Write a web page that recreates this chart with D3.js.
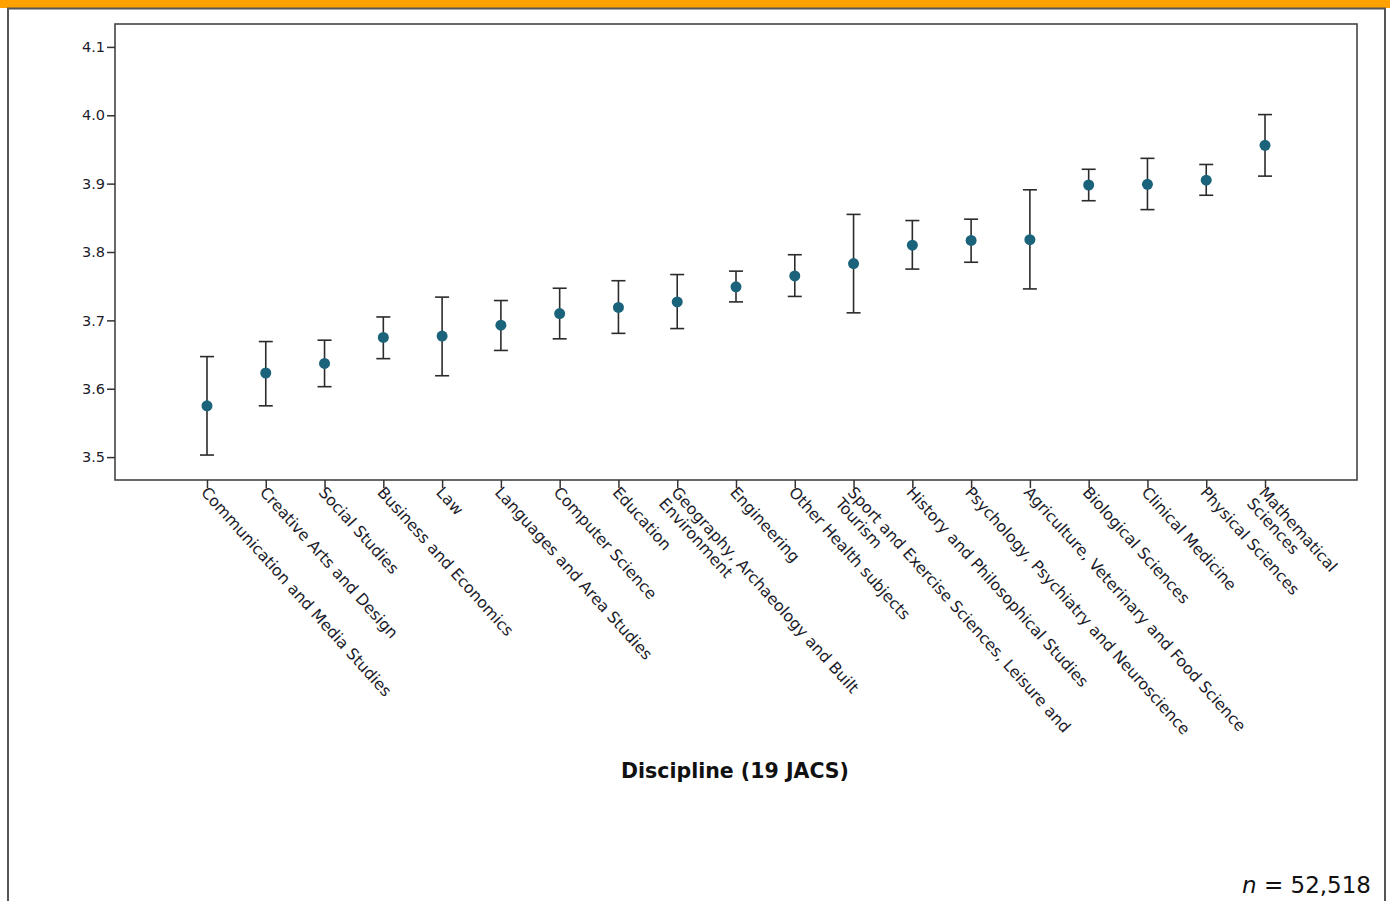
<!DOCTYPE html>
<html>
<head>
<meta charset="utf-8">
<script src="https://cdn.jsdelivr.net/npm/d3@7"></script>
<style>
  html, body { margin: 0; padding: 0; background: #fff; }
  svg { display: block; }
</style>
</head>
<body>
<svg id="chart" width="1390" height="901"></svg>
<script>
// Discipline names; each entry lists the lines of its wrapped tick label
const disciplines = [
  ["Communication and Media Studies"],
  ["Creative Arts and Design"],
  ["Social Studies"],
  ["Business and Economics"],
  ["Law"],
  ["Languages and Area Studies"],
  ["Computer Science"],
  ["Education"],
  ["Geography, Archaeology and Built", "Environment"],
  ["Engineering"],
  ["Other Health subjects"],
  ["Sport and Exercise Sciences, Leisure and", "Tourism"],
  ["History and Philosophical Studies"],
  ["Psychology, Psychiatry and Neuroscience"],
  ["Agriculture, Veterinary and Food Science"],
  ["Biological Sciences"],
  ["Clinical Medicine"],
  ["Physical Sciences"],
  ["Mathematical", "Sciences"]
];

// Mean score per discipline with the bounds of its error bar
const means = [3.575, 3.623, 3.637, 3.675, 3.677, 3.693, 3.710, 3.719, 3.727, 3.749,
               3.765, 3.783, 3.810, 3.817, 3.818, 3.898, 3.899, 3.905, 3.956];
const lower = [3.503, 3.575, 3.603, 3.644, 3.619, 3.656, 3.673, 3.681, 3.688, 3.727,
               3.735, 3.711, 3.775, 3.785, 3.746, 3.875, 3.862, 3.883, 3.911];
const upper = [3.647, 3.669, 3.671, 3.705, 3.734, 3.729, 3.747, 3.758, 3.767, 3.772,
               3.796, 3.855, 3.846, 3.848, 3.891, 3.921, 3.937, 3.928, 4.001];

const yTicks = [3.5, 3.6, 3.7, 3.8, 3.9, 4.0, 4.1];
const xTitle = "Discipline (19 JACS)";
const sampleSize = "52,518";

const svg = d3.select("#chart");
const W = 1390, H = 901;

// Page frame: orange banner and grey border
svg.append("rect").attr("x", 0).attr("y", 0).attr("width", W).attr("height", 8).attr("fill", "#FFA200");
svg.append("rect").attr("x", 8).attr("y", 8.5).attr("width", 1377).attr("height", H)
  .attr("fill", "#fff").attr("stroke", "#555").attr("stroke-width", 2);

const plot = { left: 115, right: 1357, top: 24, bottom: 480 };

const labels = disciplines.map(d => d.join(" "));
const x = d3.scalePoint().domain(labels).range([plot.left, plot.right]).padding(1.565);
const y = d3.scaleLinear().domain([3.4665, 4.1335]).range([plot.bottom, plot.top]);

// Plot frame
svg.append("rect")
  .attr("x", plot.left).attr("y", plot.top)
  .attr("width", plot.right - plot.left).attr("height", plot.bottom - plot.top)
  .attr("fill", "none").attr("stroke", "#444").attr("stroke-width", 1.6);

// Y axis
const yAxis = svg.append("g")
  .attr("transform", `translate(${plot.left},0)`)
  .call(d3.axisLeft(y).tickValues(yTicks).tickFormat(d3.format(".1f")).tickSize(8).tickPadding(2));
yAxis.select(".domain").remove();
yAxis.selectAll(".tick line").attr("stroke", "#333").attr("stroke-width", 1.5);
yAxis.selectAll(".tick text")
  .attr("font-family", "'DejaVu Sans', Verdana, sans-serif")
  .attr("font-size", "14.5px").attr("fill", "#1c1c2a");

// X axis ticks
const xAxis = svg.append("g")
  .attr("transform", `translate(0,${plot.bottom})`)
  .call(d3.axisBottom(x).tickSize(8).tickFormat(""));
xAxis.select(".domain").remove();
xAxis.selectAll(".tick line").attr("stroke", "#333").attr("stroke-width", 1.5);

// Rotated category labels
const angle = 48;
const lab = svg.append("g").selectAll("text")
  .data(disciplines)
  .join("text")
  .attr("transform", (d, i) => `translate(${x(labels[i]) + 2},${plot.bottom + 5}) rotate(${angle})`)
  .attr("font-family", "'DejaVu Sans', Verdana, sans-serif")
  .attr("font-size", "15.8px")
  .attr("fill", "#1c1c2a");
lab.selectAll("tspan")
  .data(d => d)
  .join("tspan")
  .attr("x", 0)
  .attr("dy", (d, j) => j === 0 ? "0.75em" : "1.05em")
  .text(d => d);

// Error bars
const capHalf = 7;
const bars = svg.append("g").attr("stroke", "#2b2b2b").attr("stroke-width", 1.6);
means.forEach((m, i) => {
  const cx = x(labels[i]);
  bars.append("line").attr("x1", cx).attr("x2", cx).attr("y1", y(upper[i])).attr("y2", y(lower[i]));
  bars.append("line").attr("x1", cx - capHalf).attr("x2", cx + capHalf).attr("y1", y(upper[i])).attr("y2", y(upper[i]));
  bars.append("line").attr("x1", cx - capHalf).attr("x2", cx + capHalf).attr("y1", y(lower[i])).attr("y2", y(lower[i]));
});

// Mean markers
svg.append("g").selectAll("circle")
  .data(means)
  .join("circle")
  .attr("cx", (d, i) => x(labels[i]))
  .attr("cy", d => y(d))
  .attr("r", 5.5)
  .attr("fill", "#1B637A");

// Axis title
svg.append("text")
  .attr("x", 735).attr("y", 778)
  .attr("text-anchor", "middle")
  .attr("font-family", "'DejaVu Sans', Verdana, sans-serif")
  .attr("font-weight", "bold")
  .attr("font-size", "20.5px")
  .attr("fill", "#111")
  .text(xTitle);

// Sample size note
const note = svg.append("text")
  .attr("x", 1371).attr("y", 893)
  .attr("text-anchor", "end")
  .attr("font-family", "'DejaVu Sans', Verdana, sans-serif")
  .attr("font-size", "23px")
  .attr("fill", "#111");
note.append("tspan").attr("font-style", "italic").text("n");
note.append("tspan").text(" = " + sampleSize);
</script>
</body>
</html>
